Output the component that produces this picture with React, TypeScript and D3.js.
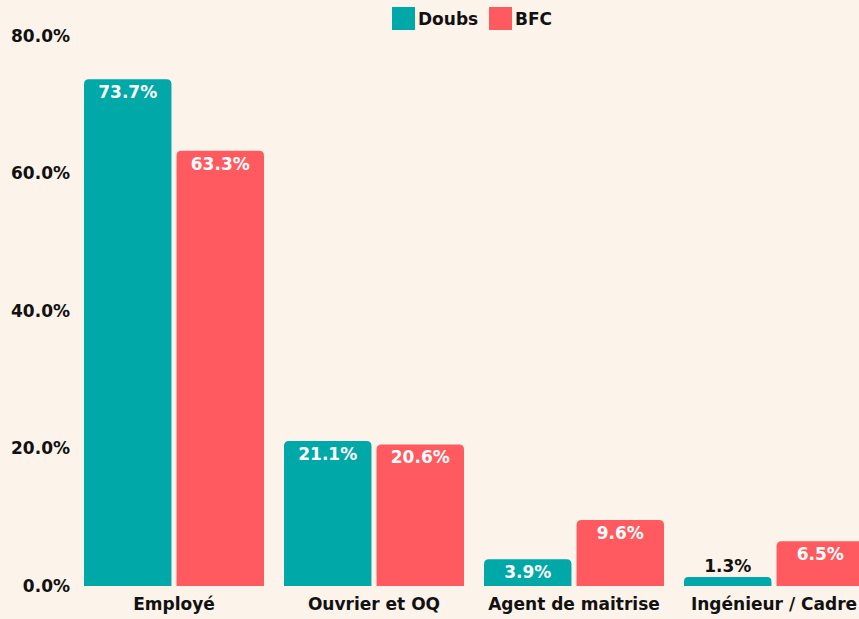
import React, { useEffect, useRef } from 'react'
import * as d3 from 'd3'

const categories = ['Employé', 'Ouvrier et OQ', 'Agent de maitrise', 'Ingénieur / Cadre']
const series = ['Doubs', 'BFC']
const doubs = [73.7, 21.1, 3.9, 1.3]
const bfc = [63.3, 20.6, 9.6, 6.5]
const yTicks = [0, 20, 40, 60, 80]
const colors = ['#00A8A8', '#FF5A5F']

export default function App() {
    const ref = useRef<SVGSVGElement | null>(null)
    const width = 859
    const height = 619

    function draw() {
        const svg = d3.select(ref.current)
        svg.selectAll('*').remove()
        const font = "'DejaVu Sans', sans-serif"

        svg.append('rect').attr('width', width).attr('height', height).attr('fill', '#FCF3EA')

        const x0 = d3.scaleBand().domain(categories).range([74, 874]).paddingInner(0.1).paddingOuter(0.05)
        const x1 = d3.scaleBand().domain(series).range([0, x0.bandwidth()]).paddingInner(0.055)
        const y = d3.scaleLinear().domain([0, 80]).range([586, 36])

        // y axis labels
        svg.append('g').selectAll('text')
            .data(yTicks)
            .enter().append('text')
            .attr('x', 70)
            .attr('y', d => y(d))
            .attr('dy', '0.35em')
            .attr('text-anchor', 'end')
            .attr('font-family', font)
            .attr('font-weight', 700)
            .attr('font-size', 17)
            .attr('fill', '#111')
            .text(d => d.toFixed(1) + '%')

        const rows = categories.map((c, i) => ({ cat: c, vals: [doubs[i], bfc[i]] }))

        function barPath(x: number, w: number, top: number, bottom: number) {
            const r = Math.min(5, (bottom - top) / 2)
            return `M${x},${bottom}V${top + r}Q${x},${top} ${x + r},${top}H${x + w - r}Q${x + w},${top} ${x + w},${top + r}V${bottom}Z`
        }

        const g = svg.append('g')
        rows.forEach(row => {
            const gx = x0(row.cat) as number
            row.vals.forEach((v, j) => {
                const bx = gx + (x1(series[j]) as number)
                const bw = x1.bandwidth()
                const top = y(v)
                g.append('path')
                    .attr('d', barPath(bx, bw, top, y(0)))
                    .attr('fill', colors[j])
                const inside = y(0) - top > 22
                g.append('text')
                    .attr('x', bx + bw / 2)
                    .attr('y', inside ? top + 13 : top - 11)
                    .attr('dy', '0.35em')
                    .attr('text-anchor', 'middle')
                    .attr('font-family', font)
                    .attr('font-weight', 700)
                    .attr('font-size', 17)
                    .attr('fill', inside ? '#fff' : '#111')
                    .text(v.toFixed(1) + '%')
            })
        })

        // x labels
        svg.append('g').selectAll('text')
            .data(categories)
            .enter().append('text')
            .attr('x', d => (x0(d) as number) + x0.bandwidth() / 2)
            .attr('y', 604)
            .attr('dy', '0.35em')
            .attr('text-anchor', 'middle')
            .attr('font-family', font)
            .attr('font-weight', 700)
            .attr('font-size', 17)
            .attr('fill', '#111')
            .text(d => d)

        // legend
        const legend = svg.append('g')
        const items = [{ name: 'Doubs', x: 392 }, { name: 'BFC', x: 489 }]
        items.forEach((it, i) => {
            legend.append('rect').attr('x', it.x).attr('y', 7).attr('width', 23).attr('height', 23).attr('fill', colors[i])
            legend.append('text')
                .attr('x', it.x + 26)
                .attr('y', 19)
                .attr('dy', '0.35em')
                .attr('font-family', font)
                .attr('font-weight', 700)
                .attr('font-size', 17)
                .attr('fill', '#111')
                .text(it.name)
        })
    }

    useEffect(() => {
        document.body.style.margin = '0'
        draw()
    }, [])

    return (
        <div>
            <svg ref={ref} width={width} height={height} style={{ display: 'block' }} />
        </div>
    )
}
